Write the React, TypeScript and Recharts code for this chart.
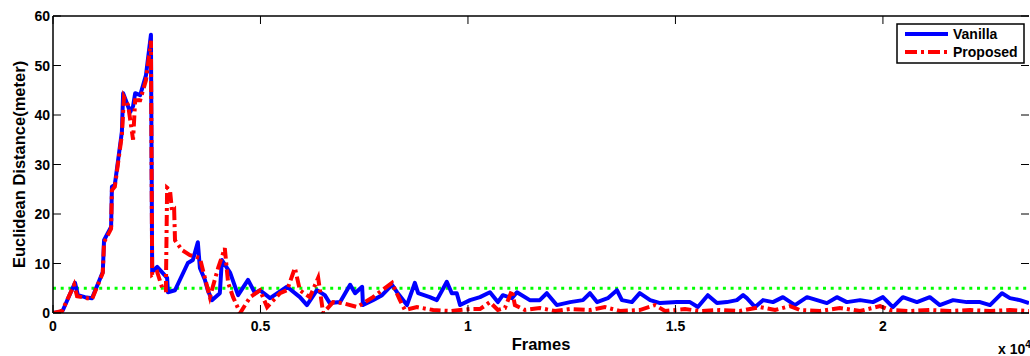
import React from 'react';
import { LineChart, Line, XAxis, YAxis } from 'recharts';

// frames are in units of 10^4, distance in meters
const vanilla: [number, number][] = [
  [0, 0], [0.017, 0.2], [0.024, 0.6], [0.053, 6.1], [0.06, 3.6], [0.077, 3.2], [0.094, 3.0],
  [0.12, 8.3], [0.123, 14.7], [0.14, 17.4], [0.142, 25.5], [0.149, 25.9], [0.166, 36.6],
  [0.169, 44.4], [0.186, 40.6], [0.193, 41.8], [0.198, 44.4], [0.21, 44.0], [0.224, 48],
  [0.236, 56.2], [0.239, 8.3], [0.251, 9.3], [0.275, 7.1], [0.277, 4.2], [0.294, 4.6],
  [0.325, 10.1], [0.337, 10.7], [0.349, 14.3], [0.354, 9.1], [0.366, 6.7], [0.373, 4.6],
  [0.383, 2.6], [0.402, 4.0], [0.407, 10.7], [0.427, 8.1], [0.446, 3.6], [0.47, 6.7],
  [0.487, 4.0], [0.499, 4.6], [0.523, 3.0], [0.564, 5.3], [0.595, 3.2], [0.612, 1.6],
  [0.636, 4.6], [0.655, 3.6], [0.667, 2.0], [0.692, 2.2], [0.716, 5.7], [0.728, 4.0],
  [0.745, 5.3], [0.747, 1.6], [0.771, 2.6], [0.793, 3.6], [0.817, 5.7], [0.829, 4.2],
  [0.853, 1.6], [0.872, 6.1], [0.88, 4.0], [0.908, 3.2], [0.925, 2.6], [0.949, 6.3],
  [0.961, 4.0], [0.973, 4.0], [0.981, 1.6], [1.005, 2.6], [1.029, 3.2], [1.053, 4.2],
  [1.072, 2.2], [1.084, 3.6], [1.106, 3.0], [1.118, 4.2], [1.149, 2.6], [1.173, 2.6],
  [1.19, 4.0], [1.214, 1.6], [1.246, 2.2], [1.277, 2.6], [1.294, 4.0], [1.311, 2.2],
  [1.337, 3.0], [1.359, 4.6], [1.371, 2.6], [1.395, 2.2], [1.414, 4.0], [1.439, 2.6],
  [1.463, 2.0], [1.504, 2.2], [1.535, 2.2], [1.554, 1.2], [1.578, 3.6], [1.6, 2.0],
  [1.624, 2.2], [1.648, 2.6], [1.663, 3.6], [1.672, 3.0], [1.692, 1.2], [1.711, 2.6],
  [1.735, 2.2], [1.759, 3.2], [1.788, 1.6], [1.817, 3.2], [1.841, 2.6], [1.865, 2.0],
  [1.889, 3.2], [1.913, 2.2], [1.945, 2.6], [1.976, 2.2], [2.0, 3.2], [2.024, 1.2],
  [2.048, 3.2], [2.082, 2.2], [2.113, 3.2], [2.137, 1.6], [2.169, 2.6], [2.202, 2.2],
  [2.234, 2.2], [2.258, 1.6], [2.287, 4.0], [2.306, 3.0], [2.33, 2.6], [2.352, 2.0],
];

const proposed: [number, number][] = [
  [0, 0], [0.022, 0.4], [0.051, 5.7], [0.058, 3.4], [0.094, 2.8], [0.12, 8.1], [0.123, 14.3],
  [0.14, 17.0], [0.142, 24.8], [0.149, 25.5], [0.166, 36], [0.171, 43.6], [0.181, 42],
  [0.193, 35], [0.198, 43], [0.21, 43], [0.224, 47], [0.236, 55], [0.239, 7.7], [0.251, 8.3],
  [0.265, 4.6], [0.272, 4.6], [0.275, 25.3], [0.282, 24.8], [0.287, 20.4], [0.292, 20.8],
  [0.294, 14.7], [0.311, 12.7], [0.33, 11.7], [0.354, 11.1], [0.366, 7.1], [0.378, 3.2],
  [0.398, 9.1], [0.414, 13.1], [0.422, 6.1], [0.434, 3.2], [0.451, 0], [0.475, 3.2],
  [0.499, 4.6], [0.516, 1.2], [0.547, 4.0], [0.564, 4.6], [0.583, 9.1], [0.595, 4.6],
  [0.619, 3.2], [0.639, 7.1], [0.651, 0], [0.675, 2.2], [0.699, 2.0], [0.733, 1.2],
  [0.771, 3.2], [0.817, 6.1], [0.836, 2.6], [0.848, 0.6], [0.877, 1.2], [0.916, 0.6],
  [0.957, 0.4], [0.981, 0.6], [1.005, 0.8], [1.029, 0.8], [1.053, 2.2], [1.072, 0.6],
  [1.089, 1.0], [1.106, 4.6], [1.113, 1.6], [1.137, 0.6], [1.173, 1.0], [1.21, 0.4],
  [1.246, 0.8], [1.294, 0.6], [1.33, 1.2], [1.366, 0.4], [1.414, 0.6], [1.451, 1.6],
  [1.475, 0.4], [1.523, 0.8], [1.559, 0.4], [1.607, 0.6], [1.655, 0.4], [1.704, 1.2],
  [1.74, 0.6], [1.776, 1.4], [1.8, 0.6], [1.848, 0.4], [1.896, 1.0], [1.945, 0.4],
  [1.993, 1.4], [2.017, 0.6], [2.065, 0.4], [2.113, 0.6], [2.161, 0.4], [2.21, 0.6],
  [2.258, 0.4], [2.306, 0.6], [2.352, 0.4],
];

const threshold: [number, number][] = [[0, 5], [2.352, 5]];

const xTicks = [0, 0.5, 1, 1.5, 2];
const yTicks = [0, 10, 20, 30, 40, 50, 60];

const W = 1030;
const H = 356;
const LEFT = 53;
const TOP = 16;
const RIGHT = 1029;
const BOTTOM = 313;
const PLOT_W = RIGHT - LEFT;
const PLOT_H = BOTTOM - TOP;
const FONT = '"Liberation Sans", Arial, Helvetica, sans-serif';
const TICK_LEN = 8;

const toRows = (pts: [number, number][]) => pts.map(([x, y]) => ({ x, y }));

const XTick = ({ x, y, payload }: any) => (
  <g>
    <line x1={x} y1={y} x2={x} y2={y - TICK_LEN} stroke="#000" strokeWidth={1} />
    <line x1={x} y1={y - PLOT_H} x2={x} y2={y - PLOT_H + TICK_LEN} stroke="#000" strokeWidth={1} />
    <text x={x} y={y + 18} textAnchor="middle" fontFamily={FONT} fontWeight="bold" fontSize={14} fill="#000">
      {payload.value}
    </text>
  </g>
);

const YTick = ({ x, y, payload }: any) => (
  <g>
    <line x1={x} y1={y} x2={x + TICK_LEN} y2={y} stroke="#000" strokeWidth={1} />
    <line x1={x + PLOT_W - TICK_LEN} y1={y} x2={x + PLOT_W} y2={y} stroke="#000" strokeWidth={1} />
    <text x={x - 3} y={y + 5} textAnchor="end" fontFamily={FONT} fontWeight="bold" fontSize={14} fill="#000">
      {payload.value}
    </text>
  </g>
);

export default function App() {
  return (
    <div style={{ position: 'absolute', left: 0, top: 0, width: W, height: H, background: '#fff' }}>
      <LineChart width={W} height={H} margin={{ top: TOP, right: W - RIGHT, bottom: 0, left: 0 }}>
        <XAxis
          type="number"
          dataKey="x"
          domain={[0, 2.352]}
          allowDataOverflow
          ticks={xTicks}
          tick={<XTick />}
          tickLine={false}
          tickSize={0}
          tickMargin={0}
          height={H - BOTTOM}
          axisLine={{ stroke: '#000', strokeWidth: 1.5 }}
        />
        <YAxis
          type="number"
          dataKey="y"
          domain={[0, 60]}
          allowDataOverflow
          ticks={yTicks}
          tick={<YTick />}
          tickLine={false}
          tickSize={0}
          tickMargin={0}
          width={LEFT}
          axisLine={{ stroke: '#000', strokeWidth: 1.5 }}
        />
        <Line
          data={toRows(threshold)}
          dataKey="y"
          stroke="#00ff00"
          strokeWidth={3}
          strokeDasharray="3 4.7"
          dot={false}
          isAnimationActive={false}
        />
        <Line
          data={toRows(vanilla)}
          dataKey="y"
          name="Vanilla"
          stroke="#0000ff"
          strokeWidth={4}
          strokeLinejoin="round"
          dot={false}
          isAnimationActive={false}
        />
        <Line
          data={toRows(proposed)}
          dataKey="y"
          name="Proposed"
          stroke="#ff0000"
          strokeWidth={4}
          strokeDasharray="11 4 3 4"
          dot={false}
          isAnimationActive={false}
        />
      </LineChart>
      <svg width={W} height={H} style={{ position: 'absolute', left: 0, top: 0, pointerEvents: 'none' }}>
        <line x1={LEFT} y1={TOP} x2={RIGHT} y2={TOP} stroke="#000" strokeWidth={1.5} />
        <text
          x={19}
          y={(TOP + BOTTOM) / 2}
          transform={`rotate(-90, 19, ${(TOP + BOTTOM) / 2})`}
          textAnchor="middle"
          dominantBaseline="central"
          fontFamily={FONT}
          fontWeight="bold"
          fontSize={16.5}
        >
          Euclidean Distance(meter)
        </text>
        <text x={(LEFT + RIGHT) / 2} y={350} textAnchor="middle" fontFamily={FONT} fontWeight="bold" fontSize={16.5}>
          Frames
        </text>
        <text x={998} y={354} fontFamily={FONT} fontWeight="bold" fontSize={14}>
          x 10<tspan dy={-6} fontSize={10}>4</tspan>
        </text>
        <g>
          <rect x={897} y={24} width={127} height={39} fill="#fff" stroke="#000" strokeWidth={1.5} />
          <line x1={905} y1={34} x2={948} y2={34} stroke="#0000ff" strokeWidth={4} />
          <line x1={905} y1={52} x2={948} y2={52} stroke="#ff0000" strokeWidth={4} strokeDasharray="12 4 3 4" />
          <text x={953} y={39} fontFamily={FONT} fontWeight="bold" fontSize={14}>Vanilla</text>
          <text x={953} y={57} fontFamily={FONT} fontWeight="bold" fontSize={14}>Proposed</text>
        </g>
      </svg>
    </div>
  );
}
